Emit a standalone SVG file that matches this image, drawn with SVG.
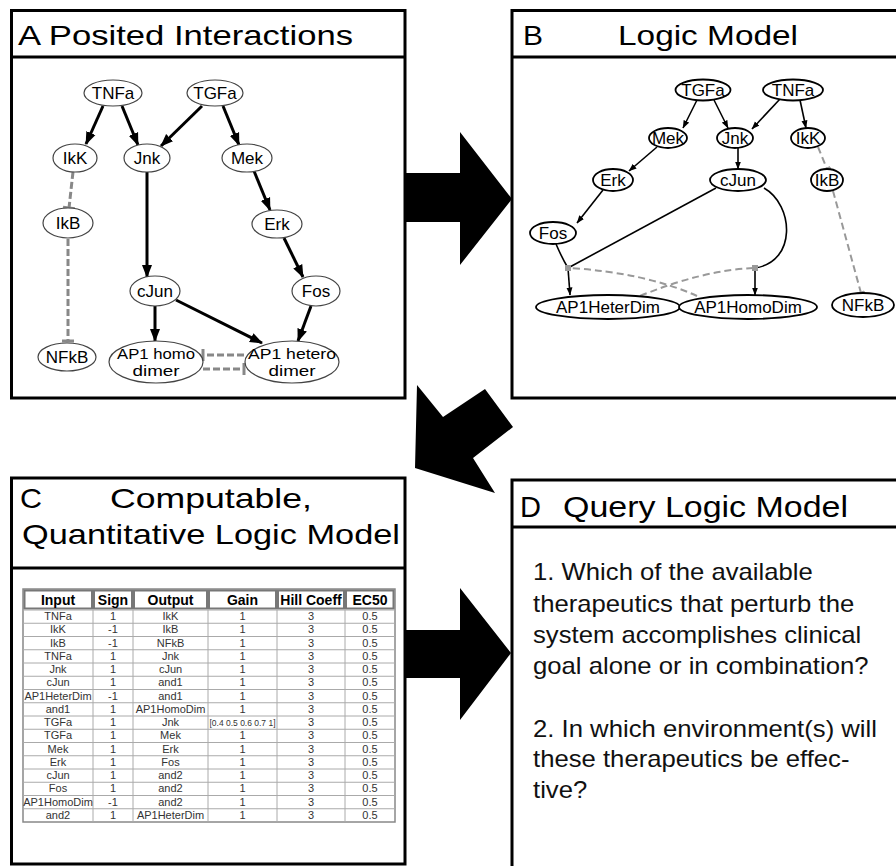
<svg xmlns="http://www.w3.org/2000/svg" width="896" height="866" viewBox="0 0 896 866">
<style>
.panel{fill:#fff;stroke:#000;stroke-width:3}
.div{stroke:#000;stroke-width:3}
.t{font-family:"Liberation Sans",Arial,Helvetica,sans-serif;fill:#000}
.title{font-size:28px}
.na{fill:#fff;stroke:#444;stroke-width:1.2}
.nb{fill:#fff;stroke:#000;stroke-width:1.8}
.nt{font-family:"Liberation Sans",Arial,Helvetica,sans-serif;font-size:17px;text-anchor:middle;fill:#000}
.nt2{font-family:"Liberation Sans",Arial,Helvetica,sans-serif;font-size:14.5px;text-anchor:middle;fill:#000}
.ea{stroke:#000;stroke-width:3;fill:none;marker-end:url(#ahA)}
.ei{stroke:#888;stroke-width:3;stroke-dasharray:7,3;fill:none;marker-end:url(#barA)}
.eb{stroke:#000;stroke-width:1.6;fill:none}
.eba{stroke:#000;stroke-width:1.6;fill:none;marker-end:url(#ahB)}
.ebi{stroke:#999;stroke-width:2;stroke-dasharray:7,4;fill:none}
.bigarrow{fill:#000}
.th{font-family:"Liberation Sans",Arial,Helvetica,sans-serif;font-size:14px;font-weight:bold;text-anchor:middle;fill:#000}
.td{font-family:"Liberation Sans",Arial,Helvetica,sans-serif;font-size:11px;text-anchor:middle;fill:#333}
.hc{fill:#fff;stroke:#777;stroke-width:2}
.gl{stroke:#aaa;stroke-width:1}
.q{font-family:"Liberation Sans",Arial,Helvetica,sans-serif;font-size:23px;fill:#111}
</style>
<defs>
<marker id="ahA" markerUnits="userSpaceOnUse" markerWidth="13" markerHeight="11" viewBox="0 0 13 11" refX="12" refY="5.5" orient="auto"><path d="M0,0.5 L13,5.5 L0,10.5 z" fill="#000"/></marker>
<marker id="ahB" markerUnits="userSpaceOnUse" markerWidth="8" markerHeight="7" viewBox="0 0 8 7" refX="7.5" refY="3.5" orient="auto"><path d="M0,0.5 L8,3.5 L0,6.5 z" fill="#000"/></marker>
<marker id="barA" markerUnits="userSpaceOnUse" markerWidth="4" markerHeight="12" viewBox="0 0 4 12" refX="2" refY="6" orient="auto"><path d="M2,0 V12" stroke="#888" stroke-width="3"/></marker>
<marker id="barB" markerUnits="userSpaceOnUse" markerWidth="4" markerHeight="8" viewBox="0 0 4 8" refX="2" refY="4" orient="auto"><path d="M2,0 V8" stroke="#999" stroke-width="3"/></marker>
</defs>
<rect width="896" height="866" fill="#fff"/>

<!-- Panels -->
<g id="panelA">
<rect class="panel" x="11.5" y="10.5" width="393.5" height="387.5"/>
<line class="div" x1="11.5" y1="57" x2="405" y2="57"/>
<text class="t title" x="18" y="45" textLength="335" lengthAdjust="spacingAndGlyphs">A Posited Interactions</text>
</g>
<g id="panelB">
<rect class="panel" x="512" y="10.5" width="390" height="387.5"/>
<line class="div" x1="512" y1="57" x2="902" y2="57"/>
<text class="t title" x="523" y="45" textLength="20" lengthAdjust="spacingAndGlyphs">B</text>
<text class="t title" x="618" y="45" textLength="180" lengthAdjust="spacingAndGlyphs">Logic Model</text>
</g>
<g id="panelC">
<rect class="panel" x="11.5" y="478" width="393.5" height="386"/>
<line class="div" x1="11.5" y1="568" x2="405" y2="568"/>
<text class="t title" x="20" y="508" textLength="22" lengthAdjust="spacingAndGlyphs">C</text>
<text class="t title" x="110" y="508" textLength="202" lengthAdjust="spacingAndGlyphs">Computable,</text>
<text class="t title" x="22" y="544" textLength="378" lengthAdjust="spacingAndGlyphs">Quantitative Logic Model</text>
</g>
<g id="panelD">
<rect class="panel" x="512" y="480" width="390" height="392"/>
<line class="div" x1="512" y1="527" x2="902" y2="527"/>
<text class="t" x="520" y="517" font-size="30" textLength="21" lengthAdjust="spacingAndGlyphs">D</text>
<text class="t" x="563" y="517" font-size="30" textLength="285" lengthAdjust="spacingAndGlyphs">Query Logic Model</text>
<g transform="translate(533,0) scale(1.117,1)">
<text class="q" x="0" y="580">1. Which of the available</text>
<text class="q" x="0" y="612">therapeutics that perturb the</text>
<text class="q" x="0" y="643">system accomplishes clinical</text>
<text class="q" x="0" y="674">goal alone or in combination?</text>
<text class="q" x="0" y="737">2. In which environment(s) will</text>
<text class="q" x="0" y="767">these therapeutics be effec-</text>
<text class="q" x="0" y="798">tive?</text>
</g>
</g>

<!-- Big arrows between panels -->
<g id="flow-arrows">
<polygon class="bigarrow" points="405,173 460,173 460,132 512,199 460,265 460,222 405,222"/>
<polygon class="bigarrow" points="417,385 443,417 485,389 513,427 473,458 495,493 415,468"/>
<polygon class="bigarrow" points="405,630 460,630 460,588 511,653 460,720 460,678 405,678"/>
</g>

<!-- Panel A connectors -->
<g id="connectorsA">
<line class="ea" x1="103" y1="106" x2="86" y2="144"/>
<line class="ea" x1="122" y1="106" x2="138" y2="145"/>
<line class="ea" x1="202" y1="106" x2="161" y2="146"/>
<line class="ea" x1="223" y1="106" x2="239" y2="145"/>
<line class="ea" x1="254" y1="171" x2="270" y2="210"/>
<line class="ea" x1="147" y1="172" x2="147" y2="277"/>
<line class="ea" x1="284" y1="238" x2="303" y2="277"/>
<line class="ea" x1="155" y1="306" x2="155" y2="341"/>
<line class="ea" x1="176" y1="300" x2="262" y2="343"/>
<line class="ea" x1="311" y1="306" x2="298" y2="341"/>
<line class="ei" x1="73" y1="172" x2="69" y2="208"/>
<line class="ei" x1="68" y1="239" x2="68" y2="341"/>
<line class="ei" x1="244" y1="355" x2="203" y2="355"/>
<line class="ei" x1="203" y1="369" x2="244" y2="369"/>
</g>

<!-- Panel A nodes -->
<g id="A-TNFa"><ellipse class="na" cx="113" cy="93" rx="29" ry="13"/><text class="nt" x="113" y="99">TNFa</text></g>
<g id="A-TGFa"><ellipse class="na" cx="215" cy="93" rx="28" ry="13"/><text class="nt" x="215" y="99">TGFa</text></g>
<g id="A-IkK"><ellipse class="na" cx="75" cy="158" rx="22" ry="14"/><text class="nt" x="75" y="164">IkK</text></g>
<g id="A-Jnk"><ellipse class="na" cx="147" cy="158" rx="23" ry="14"/><text class="nt" x="147" y="164">Jnk</text></g>
<g id="A-Mek"><ellipse class="na" cx="247" cy="158" rx="25" ry="14"/><text class="nt" x="247" y="164">Mek</text></g>
<g id="A-IkB"><ellipse class="na" cx="68" cy="223" rx="25" ry="15"/><text class="nt" x="68" y="229">IkB</text></g>
<g id="A-Erk"><ellipse class="na" cx="277" cy="224" rx="25" ry="14"/><text class="nt" x="277" y="230">Erk</text></g>
<g id="A-cJun"><ellipse class="na" cx="155" cy="291" rx="25" ry="15"/><text class="nt" x="155" y="297">cJun</text></g>
<g id="A-Fos"><ellipse class="na" cx="316" cy="291" rx="24" ry="15"/><text class="nt" x="316" y="297">Fos</text></g>
<g id="A-NFkB"><ellipse class="na" cx="67" cy="357" rx="29" ry="14"/><text class="nt" x="67" y="363">NFkB</text></g>
<g id="A-AP1homo"><ellipse class="na" cx="156" cy="362" rx="47" ry="21"/><text class="nt2" x="156" y="359" textLength="78" lengthAdjust="spacingAndGlyphs">AP1 homo</text><text class="nt2" x="156" y="376" textLength="47" lengthAdjust="spacingAndGlyphs">dimer</text></g>
<g id="A-AP1hetero"><ellipse class="na" cx="292" cy="362" rx="47" ry="21"/><text class="nt2" x="292" y="359" textLength="88" lengthAdjust="spacingAndGlyphs">AP1 hetero</text><text class="nt2" x="292" y="376" textLength="47" lengthAdjust="spacingAndGlyphs">dimer</text></g>

<!-- Panel B connectors -->
<g id="connectorsB">
<line class="eba" x1="697" y1="100" x2="683" y2="128"/>
<line class="eba" x1="714" y1="100" x2="728" y2="128"/>
<line class="eba" x1="780" y1="99" x2="752" y2="129"/>
<line class="eba" x1="800" y1="100" x2="806" y2="128"/>
<line class="eba" x1="657" y1="147" x2="629" y2="171"/>
<line class="eba" x1="738" y1="148" x2="738" y2="169"/>
<line class="eba" x1="603" y1="190" x2="577" y2="223"/>
<path class="eb" d="M556,244 Q562,258 568,268"/>
<path class="eb" d="M716,188 L568,268"/>
<path class="eba" d="M568,268 L570,295"/>
<path class="eb" d="M764,188 C794,205 797,262 755,268"/>
<path class="eba" d="M755,268 L755,295"/>
<line class="ebi" x1="818" y1="147" x2="827" y2="169" marker-end="url(#barB)"/>
<line class="ebi" x1="833" y1="191" x2="861" y2="293" marker-end="url(#barB)"/>
<path class="ebi" d="M697,296 Q646,273 570,268"/>
<path class="ebi" d="M640,296 Q703,270 755,268"/>
<rect x="565" y="265" width="6" height="6" fill="#999"/>
<rect x="752" y="265" width="6" height="6" fill="#999"/>
</g>

<!-- Panel B nodes -->
<g id="B-TGFa"><ellipse class="nb" cx="703" cy="90" rx="27.5" ry="10.5"/><text class="nt" x="703" y="96">TGFa</text></g>
<g id="B-TNFa"><ellipse class="nb" cx="793" cy="90" rx="30" ry="10.5"/><text class="nt" x="793" y="96">TNFa</text></g>
<g id="B-Mek"><ellipse class="nb" cx="668" cy="138" rx="19" ry="10"/><text class="nt" x="668" y="144">Mek</text></g>
<g id="B-Jnk"><ellipse class="nb" cx="735" cy="138" rx="18" ry="10"/><text class="nt" x="735" y="144">Jnk</text></g>
<g id="B-IkK"><ellipse class="nb" cx="808" cy="138" rx="17" ry="10"/><text class="nt" x="808" y="144">IkK</text></g>
<g id="B-Erk"><ellipse class="nb" cx="613" cy="180" rx="20" ry="11"/><text class="nt" x="613" y="186">Erk</text></g>
<g id="B-cJun"><ellipse class="nb" cx="738" cy="180" rx="28" ry="11"/><text class="nt" x="738" y="186">cJun</text></g>
<g id="B-IkB"><ellipse class="nb" cx="827" cy="180" rx="16" ry="11"/><text class="nt" x="827" y="186">IkB</text></g>
<g id="B-Fos"><ellipse class="nb" cx="553" cy="233" rx="23" ry="11"/><text class="nt" x="553" y="239">Fos</text></g>
<g id="B-AP1HeterDim"><ellipse class="nb" cx="608" cy="307" rx="72" ry="12"/><text class="nt" x="608" y="313">AP1HeterDim</text></g>
<g id="B-AP1HomoDim"><ellipse class="nb" cx="748" cy="307" rx="69" ry="12"/><text class="nt" x="748" y="313">AP1HomoDim</text></g>
<g id="B-NFkB"><ellipse class="nb" cx="863" cy="305" rx="31" ry="12"/><text class="nt" x="863" y="311">NFkB</text></g>

<!-- Table in panel C -->
<g id="table">
<rect x="23" y="589" width="372" height="233" fill="#fff" stroke="#888" stroke-width="1.5"/>
<rect class="hc" x="24.5" y="590.5" width="67.5" height="18"/>
<rect class="hc" x="94" y="590.5" width="38" height="18"/>
<rect class="hc" x="134" y="590.5" width="73" height="18"/>
<rect class="hc" x="209" y="590.5" width="67" height="18"/>
<rect class="hc" x="278" y="590.5" width="66" height="18"/>
<rect class="hc" x="346" y="590.5" width="47.5" height="18"/>
<text class="th" x="58" y="605">Input</text>
<text class="th" x="113" y="605">Sign</text>
<text class="th" x="170.5" y="605">Output</text>
<text class="th" x="242.5" y="605">Gain</text>
<text class="th" x="311" y="605">Hill Coeff</text>
<text class="th" x="370" y="605">EC50</text>
<g class="gl">
<line x1="23" y1="610" x2="395" y2="610"/>
<line x1="23" y1="623.25" x2="395" y2="623.25"/>
<line x1="23" y1="636.5" x2="395" y2="636.5"/>
<line x1="23" y1="649.75" x2="395" y2="649.75"/>
<line x1="23" y1="663" x2="395" y2="663"/>
<line x1="23" y1="676.25" x2="395" y2="676.25"/>
<line x1="23" y1="689.5" x2="395" y2="689.5"/>
<line x1="23" y1="702.75" x2="395" y2="702.75"/>
<line x1="23" y1="716" x2="395" y2="716"/>
<line x1="23" y1="729.25" x2="395" y2="729.25"/>
<line x1="23" y1="742.5" x2="395" y2="742.5"/>
<line x1="23" y1="755.75" x2="395" y2="755.75"/>
<line x1="23" y1="769" x2="395" y2="769"/>
<line x1="23" y1="782.25" x2="395" y2="782.25"/>
<line x1="23" y1="795.5" x2="395" y2="795.5"/>
<line x1="23" y1="808.75" x2="395" y2="808.75"/>
<line x1="93" y1="610" x2="93" y2="822"/>
<line x1="133" y1="610" x2="133" y2="822"/>
<line x1="208" y1="610" x2="208" y2="822"/>
<line x1="277" y1="610" x2="277" y2="822"/>
<line x1="345" y1="610" x2="345" y2="822"/>
</g>
<g class="td">
<text x="58" y="620">TNFa</text><text x="113" y="620">1</text><text x="170.5" y="620">IkK</text><text x="242.5" y="620">1</text><text x="311" y="620">3</text><text x="370" y="620">0.5</text>
<text x="58" y="633.3">IkK</text><text x="113" y="633.3">-1</text><text x="170.5" y="633.3">IkB</text><text x="242.5" y="633.3">1</text><text x="311" y="633.3">3</text><text x="370" y="633.3">0.5</text>
<text x="58" y="646.5">IkB</text><text x="113" y="646.5">-1</text><text x="170.5" y="646.5">NFkB</text><text x="242.5" y="646.5">1</text><text x="311" y="646.5">3</text><text x="370" y="646.5">0.5</text>
<text x="58" y="659.8">TNFa</text><text x="113" y="659.8">1</text><text x="170.5" y="659.8">Jnk</text><text x="242.5" y="659.8">1</text><text x="311" y="659.8">3</text><text x="370" y="659.8">0.5</text>
<text x="58" y="673">Jnk</text><text x="113" y="673">1</text><text x="170.5" y="673">cJun</text><text x="242.5" y="673">1</text><text x="311" y="673">3</text><text x="370" y="673">0.5</text>
<text x="58" y="686.3">cJun</text><text x="113" y="686.3">1</text><text x="170.5" y="686.3">and1</text><text x="242.5" y="686.3">1</text><text x="311" y="686.3">3</text><text x="370" y="686.3">0.5</text>
<text x="58" y="699.5">AP1HeterDim</text><text x="113" y="699.5">-1</text><text x="170.5" y="699.5">and1</text><text x="242.5" y="699.5">1</text><text x="311" y="699.5">3</text><text x="370" y="699.5">0.5</text>
<text x="58" y="712.8">and1</text><text x="113" y="712.8">1</text><text x="170.5" y="712.8">AP1HomoDim</text><text x="242.5" y="712.8">1</text><text x="311" y="712.8">3</text><text x="370" y="712.8">0.5</text>
<text x="58" y="726">TGFa</text><text x="113" y="726">1</text><text x="170.5" y="726">Jnk</text><text x="242.5" y="725.5" font-size="8.5" textLength="66" lengthAdjust="spacingAndGlyphs">[0.4 0.5 0.6 0.7 1]</text><text x="311" y="726">3</text><text x="370" y="726">0.5</text>
<text x="58" y="739.3">TGFa</text><text x="113" y="739.3">1</text><text x="170.5" y="739.3">Mek</text><text x="242.5" y="739.3">1</text><text x="311" y="739.3">3</text><text x="370" y="739.3">0.5</text>
<text x="58" y="752.5">Mek</text><text x="113" y="752.5">1</text><text x="170.5" y="752.5">Erk</text><text x="242.5" y="752.5">1</text><text x="311" y="752.5">3</text><text x="370" y="752.5">0.5</text>
<text x="58" y="765.8">Erk</text><text x="113" y="765.8">1</text><text x="170.5" y="765.8">Fos</text><text x="242.5" y="765.8">1</text><text x="311" y="765.8">3</text><text x="370" y="765.8">0.5</text>
<text x="58" y="779">cJun</text><text x="113" y="779">1</text><text x="170.5" y="779">and2</text><text x="242.5" y="779">1</text><text x="311" y="779">3</text><text x="370" y="779">0.5</text>
<text x="58" y="792.3">Fos</text><text x="113" y="792.3">1</text><text x="170.5" y="792.3">and2</text><text x="242.5" y="792.3">1</text><text x="311" y="792.3">3</text><text x="370" y="792.3">0.5</text>
<text x="58" y="805.5">AP1HomoDim</text><text x="113" y="805.5">-1</text><text x="170.5" y="805.5">and2</text><text x="242.5" y="805.5">1</text><text x="311" y="805.5">3</text><text x="370" y="805.5">0.5</text>
<text x="58" y="818.8">and2</text><text x="113" y="818.8">1</text><text x="170.5" y="818.8">AP1HeterDim</text><text x="242.5" y="818.8">1</text><text x="311" y="818.8">3</text><text x="370" y="818.8">0.5</text>
</g>
</g>
</svg>
